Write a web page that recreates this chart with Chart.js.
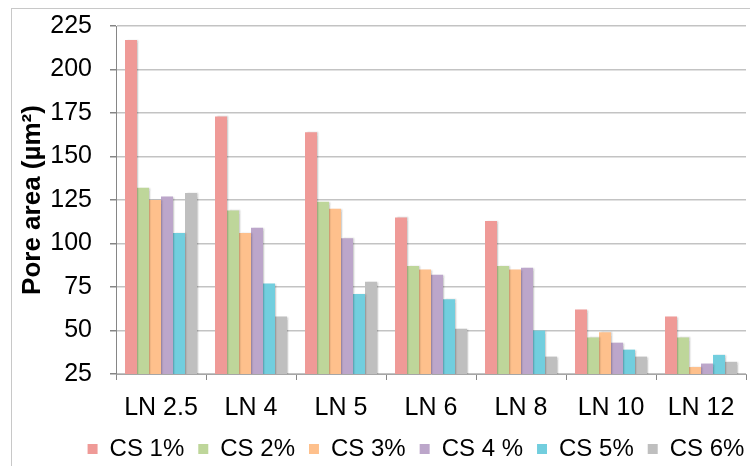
<!DOCTYPE html>
<html>
<head>
<meta charset="utf-8">
<script src="https://cdn.jsdelivr.net/npm/chart.js@4"></script>
<style>
  body { margin: 0; background: #fff; }
</style>
</head>
<body>
<canvas id="chart" width="750" height="466"></canvas>
<script>
const categories = ["LN 2.5", "LN 4", "LN 5", "LN 6", "LN 8", "LN 10", "LN 12"];
const seriesNames = ["CS 1%", "CS 2%", "CS 3%", "CS 4 %", "CS 5%", "CS 6%"];
const cs1 = [217, 173, 164, 115, 113, 62, 58];
const cs2 = [132, 119, 124, 87, 87, 46, 46];
const cs3 = [125, 106, 120, 85, 85, 49, 29];
const cs4 = [127, 109, 103, 82, 86, 43, 31];
const cs5 = [106, 77, 71, 68, 50, 39, 36];
const cs6 = [129, 58, 78, 51, 35, 35, 32];
const colors = ["#EF9A97", "#BED69A", "#FEC08C", "#BCA6CA", "#72CEDE", "#BFBFBF"];

const allSeries = [cs1, cs2, cs3, cs4, cs5, cs6];

// light frame round the whole chart
const frame = {
  id: "frame",
  beforeDraw(chart) {
    const c = chart.ctx;
    c.save();
    c.strokeStyle = "#C8C8C8";
    c.lineWidth = 1;
    c.strokeRect(11.5, 8.5, 800, 500);
    c.restore();
  }
};

// soft shadow on the bars
const barShadow = {
  id: "barShadow",
  beforeDatasetsDraw(chart) {
    const c = chart.ctx;
    c.save();
    c.shadowColor = "rgba(0,0,0,0.18)";
    c.shadowOffsetX = 1.5;
    c.shadowOffsetY = 0;
    c.shadowBlur = 1.5;
  },
  afterDatasetsDraw(chart) {
    chart.ctx.restore();
  }
};

// nudge the legend a bit right and down after layout
const legendShift = {
  id: "legendShift",
  afterLayout(chart) {
    const lg = chart.legend;
    if (!lg) return;
    const dx = 37, dy = 5;
    lg.left += dx; lg.right += dx;
    lg.top += dy; lg.bottom += dy;
  }
};

const ctx = document.getElementById("chart").getContext("2d");
Chart.defaults.font.family = "'Liberation Sans', Arial, sans-serif";
Chart.defaults.color = "#000";

new Chart(ctx, {
  type: "bar",
  data: {
    labels: categories,
    datasets: allSeries.map((d, i) => ({
      label: seriesNames[i],
      data: d,
      backgroundColor: colors[i],
      borderWidth: 0,
      barPercentage: 1.0,
      categoryPercentage: 0.8
    }))
  },
  options: {
    responsive: false,
    animation: false,
    layout: { padding: { left: 12, top: 26, right: 4, bottom: 0 } },
    plugins: {
      tooltip: { enabled: false },
      legend: {
        position: "bottom",
        labels: {
          boxWidth: 10,
          boxHeight: 10,
          padding: 14,
          font: { size: 24 }
        }
      }
    },
    scales: {
      x: {
        grid: {
          offset: true,
          drawOnChartArea: false,
          tickLength: 6,
          color: "#868686"
        },
        border: { color: "#A6A6A6", width: 1 },
        ticks: { font: { size: 25 }, padding: 13, maxRotation: 0 },
        afterFit(scale) { scale.height = 44; }
      },
      y: {
        min: 25,
        max: 225,
        ticks: { stepSize: 25, font: { size: 25 }, padding: 18 },
        grid: {
          color: "#C3C3C3",
          lineWidth: 1.5,
          tickColor: "#868686",
          tickLength: 6
        },
        border: { color: "#868686", width: 1 },
        title: {
          display: true,
          text: "Pore area (µm²)",
          font: { size: 26, weight: "bold" },
          padding: { top: 5, bottom: 0 }
        },
        afterFit(scale) {
          scale.width = 104;
          scale.paddingTop = 0;
        }
      }
    }
  },
  plugins: [frame, barShadow, legendShift]
});
</script>
</body>
</html>
